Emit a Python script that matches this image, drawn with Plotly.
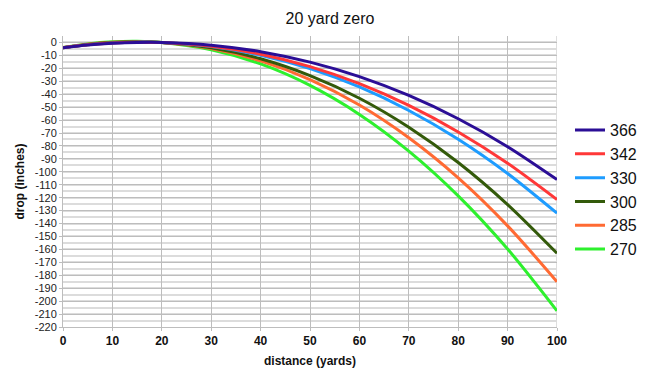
import plotly.graph_objects as go

distance = [0, 5, 10, 15, 20, 30, 40, 50, 60, 70, 80, 90, 100]
series_names = ["366", "342", "330", "300", "285", "270"]
drop_366 = [-4, -2.02, -0.68, 0.0, 0.0, -2.10, -7.11, -15.2, -26.4, -41.0, -59.0, -80.6, -106.0]
drop_342 = [-4, -1.81, -0.41, 0.20, 0.0, -2.87, -9.09, -18.7, -31.9, -48.7, -69.2, -93.4, -121.5]
drop_330 = [-4, -1.76, -0.33, 0.26, 0.0, -3.12, -9.82, -20.2, -34.4, -52.6, -74.8, -101.3, -132.0]
drop_300 = [-4, -1.51, 0.0, 0.51, 0.0, -4.14, -12.6, -25.6, -43.1, -65.5, -92.8, -125.3, -163.0]
drop_285 = [-4, -1.40, 0.15, 0.63, 0.0, -4.69, -14.2, -28.7, -48.4, -73.7, -104.7, -141.8, -185.0]
drop_270 = [-4, -1.16, 0.47, 0.86, 0.0, -5.63, -16.6, -33.2, -55.6, -84.0, -118.6, -159.7, -207.5]
colors = ["#2b0e96", "#ff3838", "#1e9cff", "#335a0a", "#ff6a33", "#2ef02e"]
x_ticks = [0, 10, 20, 30, 40, 50, 60, 70, 80, 90, 100]
y_ticks = list(range(-220, 1, 10))

all_drops = [drop_366, drop_342, drop_330, drop_300, drop_285, drop_270]

fig = go.Figure()
for name, vals, col in reversed(list(zip(series_names, all_drops, colors))):
    fig.add_trace(go.Scatter(x=distance, y=vals, name=name, mode="lines",
                             line=dict(color=col, width=3, shape="spline", smoothing=0.8)))

FONT = "Liberation Sans, Arial, sans-serif"
L, T, B, W, H = 63, 36, 58, 660, 385
PW = 494
PH = H - T - B

fig.update_layout(
    width=W, height=H,
    margin=dict(l=L, r=W - L - PW, t=T, b=B, autoexpand=False),
    paper_bgcolor="white", plot_bgcolor="white",
    font=dict(family=FONT, color="#111111"),
    title=dict(text="20 yard zero", x=0.5, xanchor="center", y=1 - 18 / H, yanchor="middle",
               xref="container", yref="container", font=dict(size=16, color="#111111")),
    showlegend=True,
    legend=dict(traceorder="reversed", x=(570 - L) / PW, xanchor="left", y=0.472, yanchor="middle",
                font=dict(size=16, color="#111111"), itemwidth=30, tracegroupgap=0,
                bgcolor="rgba(0,0,0,0)"),
)
fig.update_xaxes(
    range=[0, 100], tickvals=x_ticks, ticktext=[str(v) for v in x_ticks],
    showgrid=True, gridcolor="#bdbdbd", gridwidth=1,
    showline=True, linecolor="#bdbdbd", linewidth=1, mirror=False,
    ticks="outside", ticklen=3, tickcolor="#bdbdbd",
    tickfont=dict(size=12, family=FONT, color="#111111", weight="bold"),
    automargin=False, zeroline=False,
)
fig.update_yaxes(
    range=[-220, 5], tickvals=y_ticks, ticktext=[str(v) for v in y_ticks],
    showgrid=True, gridcolor="#bdbdbd", gridwidth=1,
    minor=dict(dtick=5, tick0=0, showgrid=True, gridcolor="#dcdcdc", gridwidth=2),
    showline=True, linecolor="#bdbdbd", linewidth=1,
    ticks="outside", ticklen=3, tickcolor="#bdbdbd",
    tickfont=dict(size=11, family=FONT, color="#222222"),
    automargin=False, zeroline=False,
)
# axis titles
fig.add_annotation(text="distance (yards)", xref="paper", yref="paper", x=0.5, y=-(361 - (T + PH)) / PH,
                   xanchor="center", yanchor="middle", showarrow=False,
                   font=dict(size=12, family=FONT, color="#111111", weight="bold"))
fig.add_annotation(text="drop (inches)", xref="paper", yref="paper", x=-(L - 19) / PW, y=0.5,
                   xanchor="center", yanchor="middle", textangle=-90, showarrow=False,
                   font=dict(size=12, family=FONT, color="#111111", weight="bold"))
# right border line at x=100
fig.add_shape(type="line", xref="x", yref="paper", x0=100, x1=100, y0=0, y1=1,
              line=dict(color="#bdbdbd", width=1), layer="below")

fig.write_html("out.html", config={"displayModeBar": False},
               post_script="document.body.style.margin='0';")
